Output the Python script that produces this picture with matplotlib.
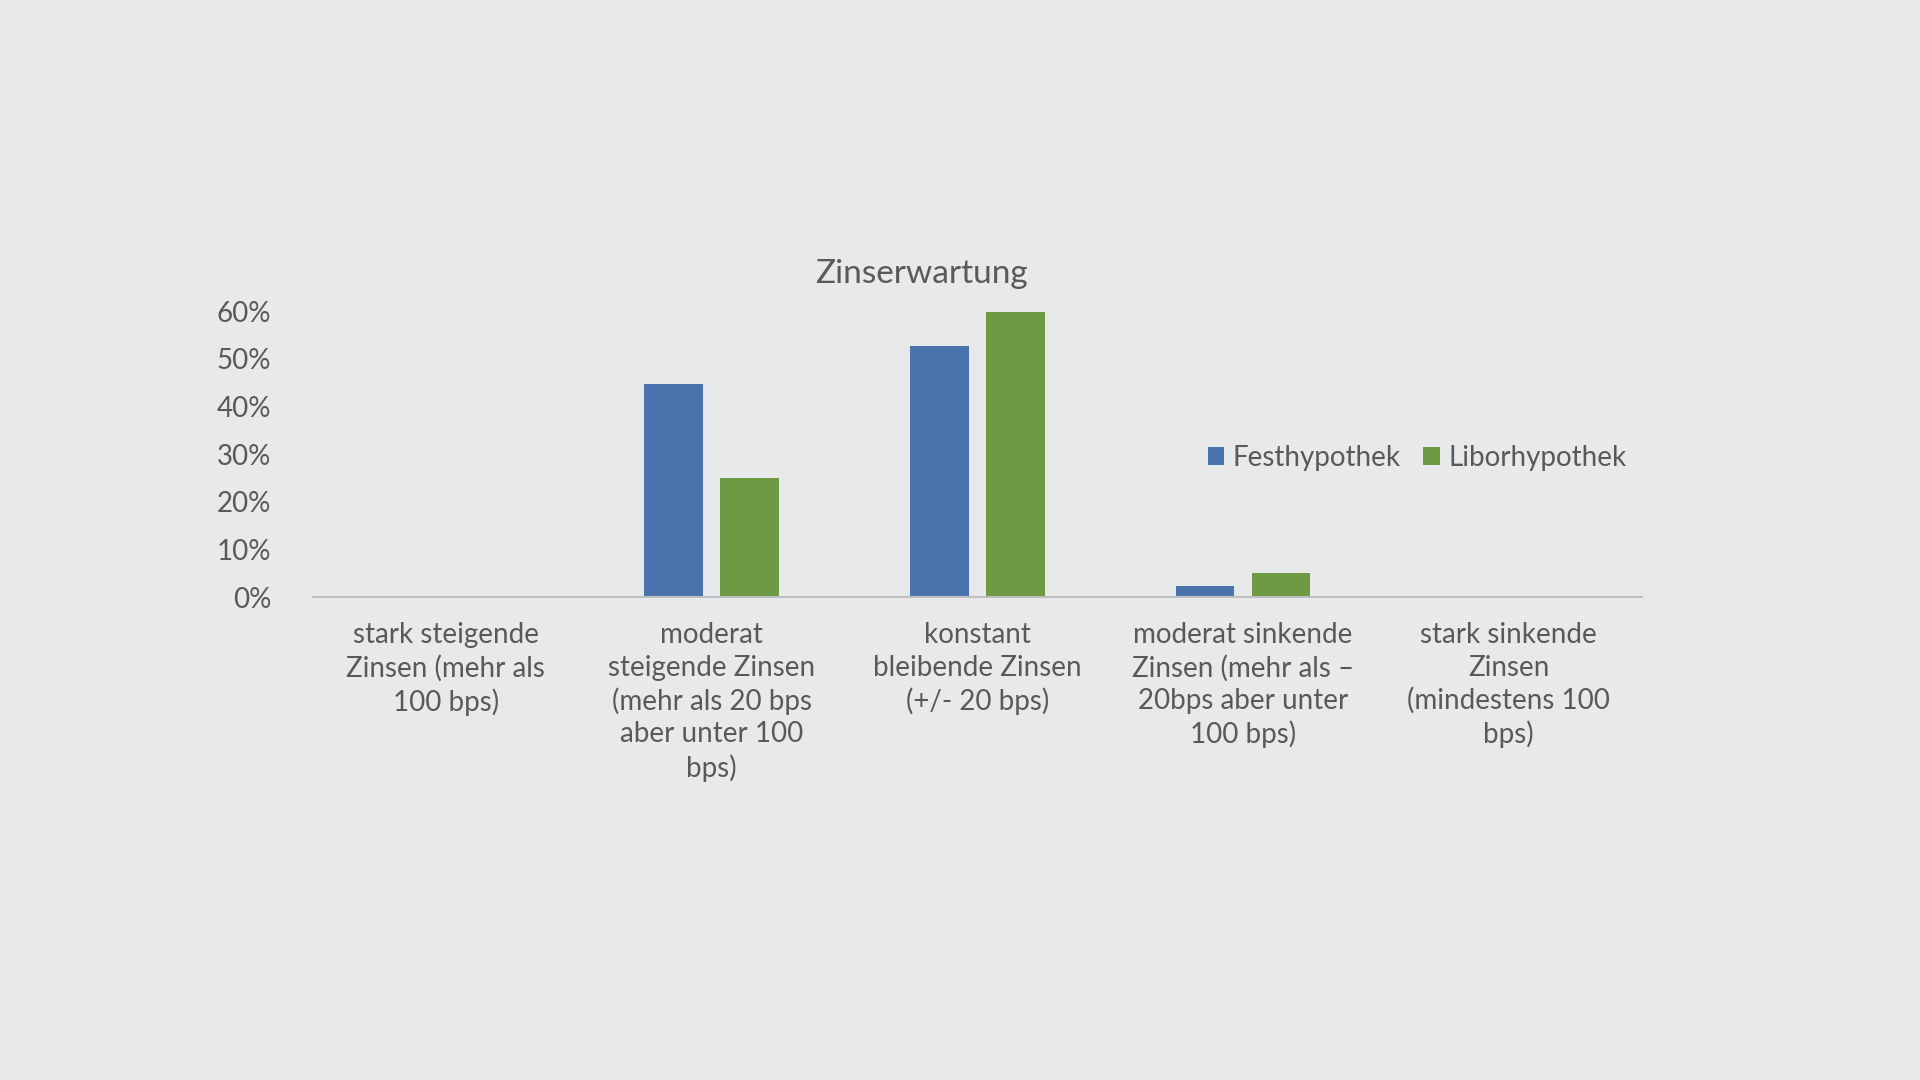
import numpy as np
import matplotlib.pyplot as plt
from matplotlib.ticker import PercentFormatter

categories = ["stark steigende\nZinsen (mehr als\n100 bps)",
              "moderat\nsteigende Zinsen\n(mehr als 20 bps\naber unter 100\nbps)",
              "konstant\nbleibende Zinsen\n(+/- 20 bps)",
              "moderat sinkende\nZinsen (mehr als \u2013\n20bps aber unter\n100 bps)",
              "stark sinkende\nZinsen\n(mindestens 100\nbps)"]
fest = [0.0, 0.446, 0.526, 0.023, 0.0]
libor = [0.0, 0.249, 0.597, 0.051, 0.0]

bg = '#e8e9eb'
txt = '#595959'
plt.rcParams['font.family'] = ['Lato', 'DejaVu Sans']

fig = plt.figure(figsize=(19.2, 10.8), dpi=100, facecolor=bg)
ax = fig.add_axes([0.163, 0.447, 0.692, 0.265], facecolor=bg)

x = np.arange(len(categories))
w = 0.22
ax.bar(x - 0.143, fest, w, color='#4a73ae', label='Festhypothek')
ax.bar(x + 0.143, libor, w, color='#6e9a44', label='Liborhypothek')

ax.set_xlim(-0.5, len(categories) - 0.5)
ax.set_ylim(0, 0.6)
ax.set_yticks(np.arange(0, 0.61, 0.1))
ax.yaxis.set_major_formatter(PercentFormatter(1.0, decimals=0))
ax.set_xticks(x)
ax.set_xticklabels(categories, fontsize=20, color=txt, linespacing=1.3, va='top')
ax.tick_params(axis='y', labelsize=20, labelcolor=txt, length=0, pad=30)
ax.tick_params(axis='x', length=0, pad=18)
for s in ['top', 'right', 'left']:
    ax.spines[s].set_visible(False)
ax.spines['bottom'].set_color('#bfbfbf')
ax.spines['bottom'].set_linewidth(1.5)

fig.text(0.48, 0.746, 'Zinserwartung', fontsize=24, color=txt, ha='center', va='center')
fig.legend(loc='center', bbox_to_anchor=(0.738, 0.576), ncol=2, frameon=False,
           fontsize=20, labelcolor=txt, handlelength=0.6, handleheight=0.6,
           handletextpad=0.3, columnspacing=0.8)

fig.savefig('out.png', dpi=100, facecolor=bg)
